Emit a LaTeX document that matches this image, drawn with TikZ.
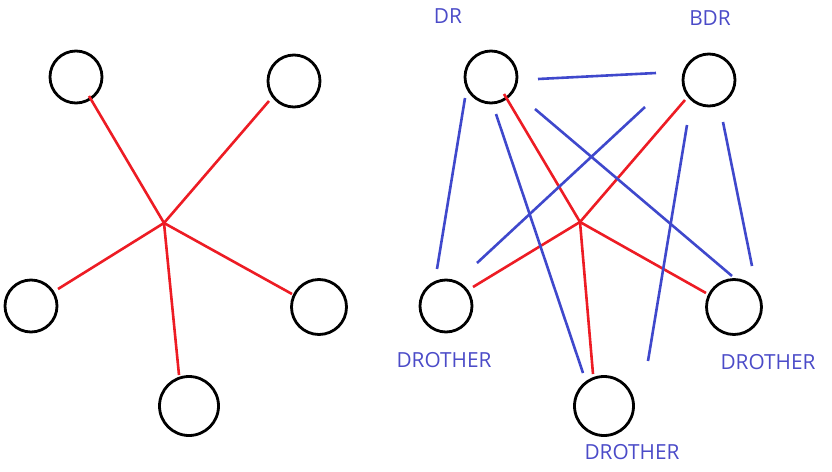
\documentclass[tikz,border=0pt]{standalone}
\usepackage{fontspec}
\setmainfont{Open Sans}
\definecolor{pred}{RGB}{237,28,36}
\definecolor{pblue}{RGB}{63,72,204}
\definecolor{lblue}{RGB}{75,75,200}
\begin{document}
\begin{tikzpicture}[x=1pt,y=-1pt,
  ring/.style={draw=black,line width=2.8pt,circle,inner sep=0pt},
  rl/.style={draw=pred,line width=2.6pt},
  bl/.style={draw=pblue,line width=2.6pt},
  lab/.style={text=lblue,font=\fontsize{20.8}{21}\selectfont,inner sep=0pt}]
\useasboundingbox (0,0) rectangle (832,471);
% left star
\node[ring,minimum size=52pt] (a1) at (76,77) {};
\node[ring,minimum size=52pt] (a2) at (294,81) {};
\node[ring,minimum size=52pt] (a3) at (31,306) {};
\node[ring,minimum size=55pt] (a4) at (319,307) {};
\node[ring,minimum size=59pt] (a5) at (189,406) {};
\coordinate (ah) at (164,223);
\coordinate (ae1) at (89,96);
\coordinate (ae2) at (269,101);
\coordinate (ae3) at (58,289);
\coordinate (ae4) at (292,294);
\coordinate (ae5) at (179,375);
\draw[rl] (ah) -- (ae1);
\draw[rl] (ah) -- (ae2);
\draw[rl] (ah) -- (ae3);
\draw[rl] (ah) -- (ae4);
\draw[rl] (ah) -- (ae5);
% right mesh
\node[ring,minimum size=52pt] (dr) at (491,77) {};
\node[ring,minimum size=52pt] (bdr) at (709,80) {};
\node[ring,minimum size=52pt] (o1) at (446,306) {};
\node[ring,minimum size=55pt] (o2) at (734,307) {};
\node[ring,minimum size=59pt] (o3) at (604,406) {};
\node[lab] (ldr) at (448,16) {DR};
\node[lab] (lbdr) at (710,18) {BDR};
\node[lab] (lo1) at (444,360) {DROTHER};
\node[lab] (lo2) at (768,362) {DROTHER};
\node[lab] (lo3) at (632,452) {DROTHER};
\coordinate (bh) at (580,222);
\coordinate (be1) at (504,94);
\coordinate (be2) at (685,100);
\coordinate (be3) at (473,287);
\coordinate (be4) at (706,293);
\coordinate (be5) at (593,374);
\draw[rl] (bh) -- (be1);
\draw[rl] (bh) -- (be2);
\draw[rl] (bh) -- (be3);
\draw[rl] (bh) -- (be4);
\draw[rl] (bh) -- (be5);
\coordinate (p1a) at (538,79);  \coordinate (p1b) at (656,73);
\coordinate (p2a) at (465,98);  \coordinate (p2b) at (437,269);
\coordinate (p3a) at (496,114); \coordinate (p3b) at (583,373);
\coordinate (p4a) at (535,109); \coordinate (p4b) at (732,276);
\coordinate (p5a) at (645,107); \coordinate (p5b) at (477,263);
\coordinate (p6a) at (687,125); \coordinate (p6b) at (648,361);
\coordinate (p7a) at (723,122); \coordinate (p7b) at (752,266);
\draw[bl] (p1a) -- (p1b);
\draw[bl] (p2a) -- (p2b);
\draw[bl] (p3a) -- (p3b);
\draw[bl] (p4a) -- (p4b);
\draw[bl] (p5a) -- (p5b);
\draw[bl] (p6a) -- (p6b);
\draw[bl] (p7a) -- (p7b);
\end{tikzpicture}
\end{document}
